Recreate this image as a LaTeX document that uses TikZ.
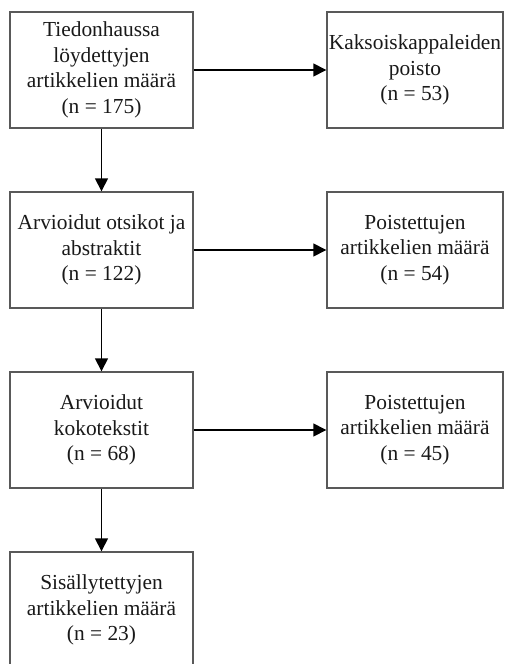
\documentclass[tikz,border=0pt]{standalone}
\usepackage{fontspec}
\setmainfont{Liberation Serif}
\usepackage{tikz}
\usetikzlibrary{arrows.meta}
\tikzset{flowbox/.style={draw=black!65, line width=1.4pt, align=center, inner sep=0pt, minimum height=116pt, font=\fontsize{21.4}{25.7}\selectfont, text=black!90}}
\newcommand{\leftbox}[3] {\node at (#1) (#2) [flowbox, minimum width=183pt] {#3};}
\newcommand{\rightbox}[3] {\node at (#1) (#2) [flowbox, minimum width=176pt] {#3};}
\newcommand{\flowtransition}[2] {\draw [line width=1.5pt, -{Triangle[length=13pt,width=13pt]}] (#1) -- (#2);}

\begin{document}
\begin{tikzpicture}[x=1pt,y=-1pt]
\useasboundingbox (0,0) rectangle (504,664);
\leftbox  {101.5,70}  {haku}   {Tiedonhaussa\\löydettyjen\\artikkelien määrä\\(n = 175)};
\rightbox {415,70}    {kaksoi} {Kaksoiskappaleiden\\poisto\\(n = 53)};
\leftbox  {101.5,250} {otsikot} {Arvioidut otsikot ja\\abstraktit\\(n = 122)};
\rightbox {415,250}   {poisto1} {Poistettujen\\artikkelien määrä\\(n = 54)};
\leftbox  {101.5,430} {koko}   {Arvioidut\\kokotekstit\\(n = 68)};
\rightbox {415,430}   {poisto2} {Poistettujen\\artikkelien määrä\\(n = 45)};
\leftbox  {101.5,610} {mukana} {Sisällytettyjen\\artikkelien määrä\\(n = 23)};

\flowtransition{haku}{kaksoi};
\flowtransition{haku}{otsikot};
\flowtransition{otsikot}{poisto1};
\flowtransition{otsikot}{koko};
\flowtransition{koko}{poisto2};
\flowtransition{koko}{mukana};

\end{tikzpicture}
\end{document}
